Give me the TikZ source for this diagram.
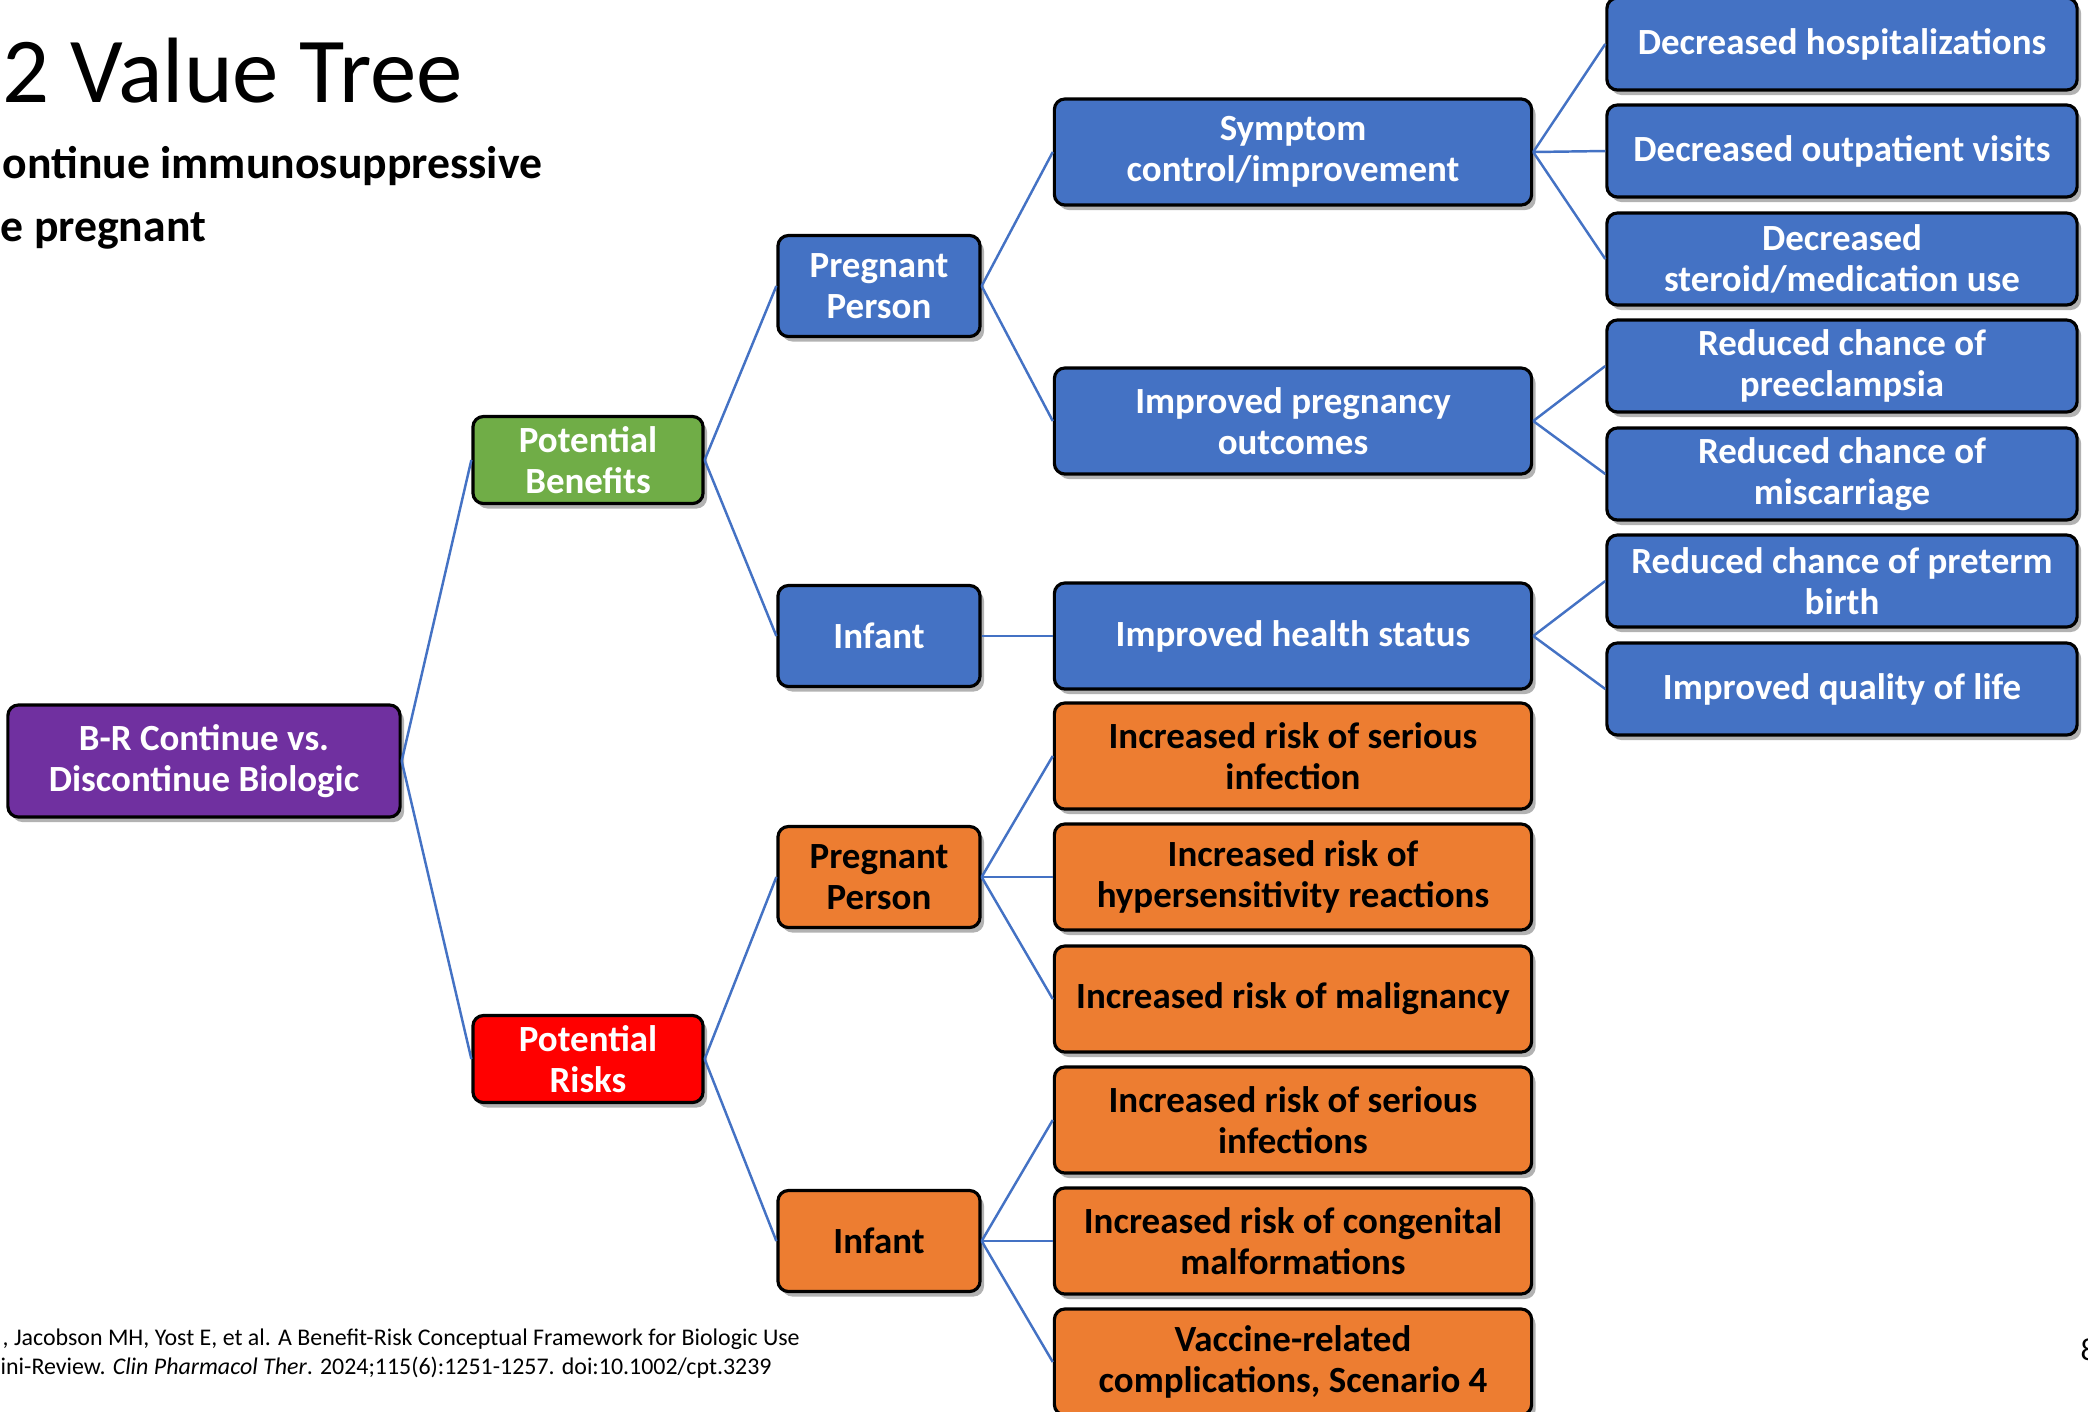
\documentclass[tikz,border=0pt]{standalone}
\usepackage{fontspec}
\setmainfont{Carlito}
\usepackage{tikz}
\usetikzlibrary{shadows}
\definecolor{vtblue}{HTML}{4472C4}
\definecolor{vtorange}{HTML}{ED7D31}
\definecolor{vtgreen}{HTML}{70AD47}
\definecolor{vtpurple}{HTML}{7030A0}
\definecolor{vtred}{HTML}{FF0000}
\tikzset{
  vbox/.style={draw=black, line width=0.9pt, rounded corners=3pt, align=center, inner sep=0pt,
    font=\fontsize{10.5}{11.5}\selectfont\bfseries,
    drop shadow={shadow xshift=0.04cm, shadow yshift=-0.05cm, opacity=0.3, fill=black}},
  rootbox/.style={vbox, fill=vtpurple, text=white, minimum width=3.92cm, minimum height=1.12cm},
  benbox/.style={vbox, fill=vtgreen, text=white, minimum width=2.30cm, minimum height=0.87cm},
  riskbox/.style={vbox, fill=vtred, text=white, minimum width=2.30cm, minimum height=0.87cm},
  bluebox/.style={vbox, fill=vtblue, text=white},
  orangebox/.style={vbox, fill=vtorange, text=black},
  who/.style={minimum width=2.02cm, minimum height=1.01cm},
  mid/.style={minimum width=4.77cm, minimum height=1.06cm},
  leaf/.style={minimum width=4.70cm, minimum height=0.92cm},
  link/.style={draw=vtblue, line width=0.7pt}
}

\begin{document}
\begin{tikzpicture}[x=0.01cm, y=-0.01cm]
\path[use as bounding box] (0,0) rectangle (2088,1411);
\clip (0,0) rectangle (2088,1411);

% heading, cut at the left side of the slide
\node[anchor=base west, inner sep=0pt, font=\fontsize{26.4}{31}\selectfont] (title) at (2,102) {2 Value Tree};
\node[anchor=base west, inner sep=0pt, font=\fontsize{13}{16}\selectfont\bfseries] (sub1) at (2,178) {ontinue immunosuppressive};
\node[anchor=base west, inner sep=0pt, font=\fontsize{13}{16}\selectfont\bfseries] (sub2) at (0,241) {e pregnant};

% tree
\node[rootbox] (root) at (204,761) {B-R Continue vs.\\Discontinue Biologic};
\node[benbox] (ben) at (588,460) {Potential\\Benefits};
\node[riskbox] (risk) at (588,1059) {Potential\\Risks};

\node[bluebox,who] (benmom) at (879,286) {Pregnant\\Person};
\node[bluebox,who] (benbaby) at (879,636) {Infant};
\node[orangebox,who] (riskmom) at (879,877) {Pregnant\\Person};
\node[orangebox,who] (riskbaby) at (879,1241) {Infant};

\node[bluebox,mid] (symptom) at (1293,152) {Symptom\\control/improvement};
\node[bluebox,mid] (outcome) at (1293,421) {Improved pregnancy\\outcomes};
\node[bluebox,mid] (health) at (1293,636) {Improved health status};

\node[orangebox,mid] (infect) at (1293,756) {Increased risk of serious\\infection};
\node[orangebox,mid] (hyper) at (1293,877) {Increased risk of\\hypersensitivity reactions};
\node[orangebox,mid] (malig) at (1293,999) {Increased risk of malignancy};
\node[orangebox,mid] (infects) at (1293,1120) {Increased risk of serious\\infections};
\node[orangebox,mid] (congen) at (1293,1241) {Increased risk of congenital\\malformations};
\node[orangebox,mid] (vaccine) at (1293,1362) {Vaccine-related\\complications, Scenario 4};

\node[bluebox,leaf] (hosp) at (1842,44) {Decreased hospitalizations};
\node[bluebox,leaf] (visits) at (1842,151) {Decreased outpatient visits};
\node[bluebox,leaf] (steroid) at (1842,259) {Decreased\\steroid/medication use};
\node[bluebox,leaf] (preec) at (1842,366) {Reduced chance of\\preeclampsia};
\node[bluebox,leaf] (miscar) at (1842,474) {Reduced chance of\\miscarriage};
\node[bluebox,leaf] (preterm) at (1842,581) {Reduced chance of preterm\\birth};
\node[bluebox,leaf] (quality) at (1842,689) {Improved quality of life};

% connectors
\draw[link] (root.east) -- (ben.west);
\draw[link] (root.east) -- (risk.west);
\draw[link] (ben.east) -- (benmom.west);
\draw[link] (ben.east) -- (benbaby.west);
\draw[link] (risk.east) -- (riskmom.west);
\draw[link] (risk.east) -- (riskbaby.west);
\draw[link] (benmom.east) -- (symptom.west);
\draw[link] (benmom.east) -- (outcome.west);
\draw[link] (benbaby.east) -- (health.west);
\draw[link] (riskmom.east) -- (infect.west);
\draw[link] (riskmom.east) -- (hyper.west);
\draw[link] (riskmom.east) -- (malig.west);
\draw[link] (riskbaby.east) -- (infects.west);
\draw[link] (riskbaby.east) -- (congen.west);
\draw[link] (riskbaby.east) -- (vaccine.west);
\draw[link] (symptom.east) -- (hosp.west);
\draw[link] (symptom.east) -- (visits.west);
\draw[link] (symptom.east) -- (steroid.west);
\draw[link] (outcome.east) -- (preec.west);
\draw[link] (outcome.east) -- (miscar.west);
\draw[link] (health.east) -- (preterm.west);
\draw[link] (health.east) -- (quality.west);

% reference and slide number
\node[anchor=base west, inner sep=0pt, font=\fontsize{6.8}{8}\selectfont] (ref1) at (2,1345) {, Jacobson MH, Yost E, et al. A Benefit-Risk Conceptual Framework for Biologic Use};
\node[anchor=base west, inner sep=0pt, font=\fontsize{6.8}{8}\selectfont] (ref2) at (0,1374) {ini-Review. \textit{Clin Pharmacol Ther}. 2024;115(6):1251-1257. doi:10.1002/cpt.3239};
\node[anchor=base west, inner sep=0pt, font=\fontsize{9}{11}\selectfont] (page) at (2080,1360) {8};
\end{tikzpicture}
\end{document}
